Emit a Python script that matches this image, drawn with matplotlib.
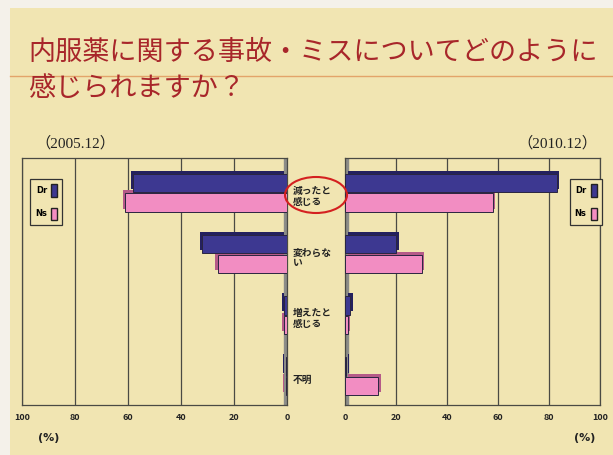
import numpy as np
import matplotlib
matplotlib.use('Agg')
import matplotlib.pyplot as plt
from matplotlib.patches import Rectangle, Ellipse, Patch
from matplotlib.transforms import blended_transform_factory

plt.rcParams['font.family'] = ['Noto Sans CJK JP', 'DejaVu Sans']

# data (%)
categories = ['減ったと\n感じる', '変わらな\nい', '増えたと\n感じる', '不明']
dr_2005 = [58, 32, 1, 0.5]
ns_2005 = [61, 26, 1, 0.5]
dr_2010 = [83, 20, 2, 0.5]
ns_2010 = [58, 30, 1, 13]
ticks = [0, 20, 40, 60, 80, 100]

dr_col, dr_dark = '#3d3891', '#24205e'
ns_col, ns_dark = '#f28dc2', '#b55a88'
bg = '#f1e5b2'
grid_col = '#4a4a44'

fig = plt.figure(figsize=(6.13, 4.55), dpi=100)
fig.patch.set_facecolor('#f4f1ea')
fig.patches.append(Rectangle((10/613, 0), 1, 1 - 8/455, transform=fig.transFigure,
                             facecolor=bg, edgecolor='none', zorder=-10))

# title
fig.text(28/613, 1 - 52/455, '内服薬に関する事故・ミスについてどのように',
         fontsize=19.5, color='#a8262a', va='center', ha='left')
fig.text(28/613, 1 - 88/455, '感じられますか？',
         fontsize=19.5, color='#a8262a', va='center', ha='left')
fig.lines.append(plt.Line2D([10/613, 1], [1 - 76/455, 1 - 76/455], transform=fig.transFigure,
                            color='#e3a46a', lw=1.0, zorder=-5))

fig.text(35/613, 1 - 143/455, '（2005.12）', fontsize=11,
         family=['Liberation Serif', 'Noto Sans CJK JP'], va='center', ha='left', color='#222')
fig.text(597/613, 1 - 143/455, '（2010.12）', fontsize=11,
         family=['Liberation Serif', 'Noto Sans CJK JP'], va='center', ha='right', color='#222')

axL = fig.add_axes([22/613, 1 - 405/455, 265/613, 247/455])
axR = fig.add_axes([345/613, 1 - 405/455, 255/613, 247/455])

y = np.arange(len(categories))
h = 0.30


def draw_bars(ax, dr, ns):
    for vals, off, col, dark in [(dr, -h/2 - 0.01, dr_col, dr_dark), (ns, h/2 + 0.01, ns_col, ns_dark)]:
        # depth face behind the bar for a 3D look
        ax.barh(y + off - 0.05, vals, height=h, left=1.0, color=dark, edgecolor='none', zorder=2)
        ax.barh(y + off, vals, height=h, color=col, edgecolor='#2a2540', linewidth=0.7, zorder=3)
    ax.set_xlim(0, 100)
    ax.set_ylim(3.47, -0.57)
    ax.set_facecolor(bg)
    ax.set_yticks([])
    ax.set_xticks(ticks)
    ax.set_xticklabels([str(t) for t in ticks], fontsize=6.5, fontweight='bold', color='#222')
    ax.tick_params(axis='x', length=0, pad=6)
    for t in ticks[1:]:
        ax.axvline(t, color=grid_col, lw=0.9, zorder=1)
    ax.axvspan(-0.5, 1.0, color='#8c8c88', zorder=1.5)
    for s in ax.spines.values():
        s.set_color(grid_col)
        s.set_linewidth(0.9)


draw_bars(axL, dr_2005, ns_2005)
axL.invert_xaxis()
draw_bars(axR, dr_2010, ns_2010)

handles = [Patch(facecolor=dr_col, edgecolor='#222'), Patch(facecolor=ns_col, edgecolor='#222')]
for ax, loc in [(axL, (0.015, 0.93)), (axR, (0.865, 0.93))]:
    leg = ax.legend(handles, ['Dr', 'Ns'], loc='upper left', bbox_to_anchor=loc,
                    markerfirst=False, handlelength=0.7, handleheight=1.9, labelspacing=1.3,
                    handletextpad=0.5, borderpad=0.6, fancybox=False,
                    prop={'size': 6, 'weight': 'bold', 'family': 'DejaVu Sans'})
    leg.get_frame().set_edgecolor('#333')
    leg.get_frame().set_facecolor(bg)
    leg.get_frame().set_linewidth(0.9)
    leg.get_frame().set_alpha(1)

tr = blended_transform_factory(fig.transFigure, axL.transData)
for yi, cat in zip(y, categories):
    fig.text(293/613, yi + 0.06, cat, transform=tr, fontsize=7, fontweight='bold',
             va='center', ha='left', color='#222', linespacing=1.1)

fig.patches.append(Ellipse((316/613, 1 - 195/455), 62/613, 36/455, transform=fig.transFigure,
                           facecolor='none', edgecolor='#d42020', lw=1.5, zorder=10))

fig.text(38/613, 1 - 438/455, '(%)', fontsize=8, fontweight='bold', ha='left', va='center',
         family='DejaVu Sans', color='#222')
fig.text(595/613, 1 - 438/455, '(%)', fontsize=8, fontweight='bold', ha='right', va='center',
         family='DejaVu Sans', color='#222')

fig.savefig('out.png', dpi=100, facecolor=fig.get_facecolor())
